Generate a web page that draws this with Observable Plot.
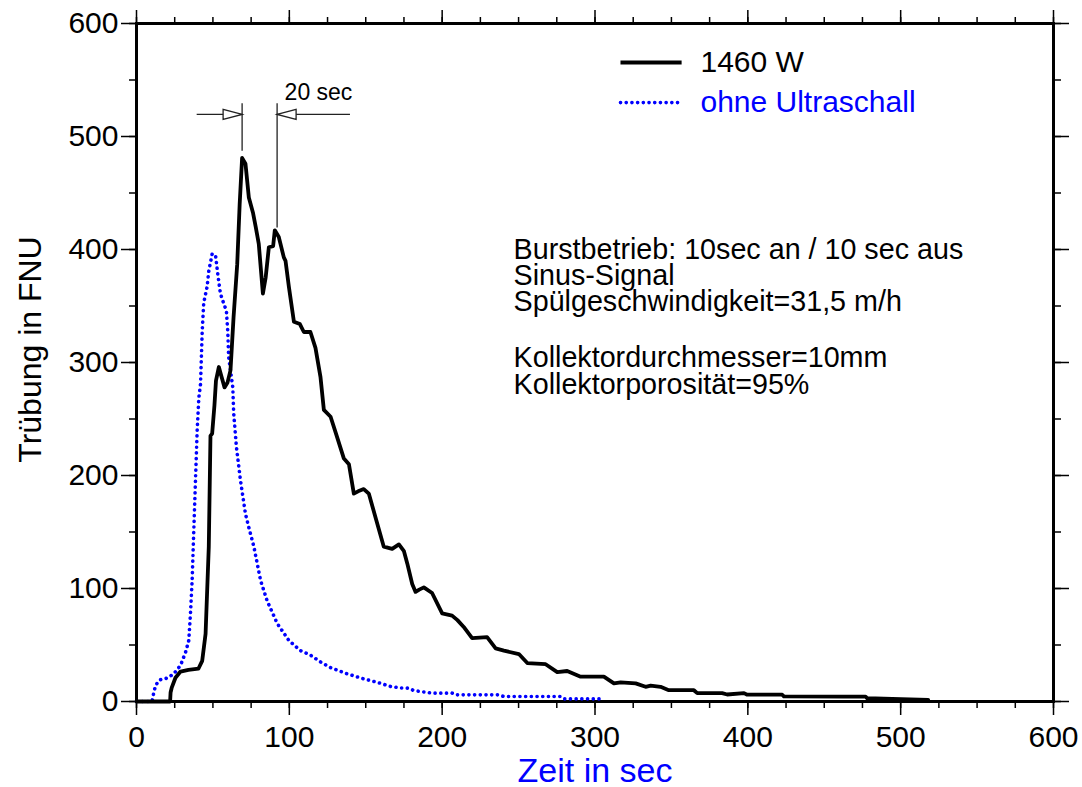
<!DOCTYPE html>
<html>
<head>
<meta charset="utf-8">
<script src="https://cdn.jsdelivr.net/npm/d3@7"></script>
<script src="https://cdn.jsdelivr.net/npm/@observablehq/plot@0.6"></script>
<style>
  html, body { margin: 0; padding: 0; background: #fff; }
  #chart { width: 1082px; height: 787px; }
</style>
</head>
<body>
<div id="chart"></div>
<script>
// ---- data ----
const seriesNames = ["1460 W", "ohne Ultraschall"];
const seriesColors = ["#000000", "#0000ff"];

const t1460 = [0, 22, 22.3, 23, 25.5, 28.8, 34, 40.5, 43, 45.2, 47.3, 48.4, 49.5, 51, 52, 53.9, 55.5, 57.6, 59.5, 61.5, 63.5, 65.9, 67.5, 69.1, 71.3, 73.5, 76.3, 78, 80, 82.7, 84.5, 86.6, 89.4, 90.5, 93.1, 96.4, 97.5, 99.7, 103, 106.9, 109.5, 113.8, 117.1, 120.4, 122.6, 127, 131, 135.7, 139, 142.2, 145, 148.7, 152, 157, 161.8, 167.3, 171.7, 175, 177.2, 180.4, 182.6, 185, 188, 193.4, 200, 206.5, 210, 214.1, 219.6, 229.4, 235, 240.4, 250.2, 255.7, 267.7, 275.3, 281.8, 290.6, 305.8, 312.4, 316.8, 326.6, 333.1, 336.4, 342.9, 348.3, 364.7, 366.9, 383.2, 386.5, 397.5, 399.6, 422.5, 423.6, 462.9, 477, 478, 494.5, 518];
const v1460 = [0, 0, 8, 12, 21, 26.5, 28, 29, 36, 60, 137, 235, 237, 262, 284, 296, 288, 278, 282, 293, 340, 387, 440, 481, 476, 446, 432, 420, 405, 361, 375, 402, 403, 417, 411, 393, 390, 367, 336, 334, 327, 327, 313, 287, 258, 252, 235, 215, 210, 184, 186, 188, 184, 160, 137, 135, 139, 133, 122, 104, 97, 99, 101, 96, 78, 76, 72, 66, 56, 57, 47, 45, 42, 34, 33, 26, 27, 22, 22, 16, 17, 16, 13, 14, 13, 10, 10, 7.4, 7.4, 6.2, 7.4, 6, 6, 4.5, 4.4, 4.4, 3, 2.3, 1.5];

const tOhne = [0, 10.2, 11.3, 12.5, 14.6, 17, 20, 24.4, 28.8, 32.1, 34.2, 35.3, 36.4, 37.4, 38.6, 39.7, 40.8, 41.9, 43, 44, 46.2, 47.3, 49.5, 51.7, 53.2, 54.9, 57.1, 58.8, 59.7, 60.3, 61.5, 63, 63.6, 65.4, 68, 71.3, 73.5, 76.8, 81.2, 85.5, 92.1, 99.7, 107.3, 113.9, 120.4, 127, 137.8, 148.7, 157.5, 166.2, 172.8, 178.2, 181.4, 193.4, 206.5, 208.8, 237, 240.4, 277.5, 279.6, 305.6];
const vOhne = [0, 0, 8, 14, 18.6, 20, 20.6, 24.5, 31.9, 43.6, 54, 77.6, 107, 148, 196, 240, 269, 281, 328, 353, 367, 381, 396, 395, 378, 361, 352, 346, 328, 305, 293, 278, 255, 225, 196, 166, 154, 137, 107, 89, 69, 54, 45, 41, 35, 30, 24.5, 20, 17, 13.3, 12, 11.8, 9.7, 7.4, 7.4, 5.9, 5.9, 4.4, 4.4, 2.3, 2.3];

const xMajor = [0, 100, 200, 300, 400, 500, 600];
const yMajor = [0, 100, 200, 300, 400, 500, 600];
const xMinor = d3.range(0, 601, 25);
const yMinor = d3.range(0, 601, 50);

// annotation: peak times 20 s apart
const peakTimes = [69.1, 92];
const annoText = "20 sec";
const infoLines1 = ["Burstbetrieb: 10sec an / 10 sec aus", "Sinus-Signal", "Spülgeschwindigkeit=31,5 m/h"];
const infoLines2 = ["Kollektordurchmesser=10mm", "Kollektorporosität=95%"];

// ---- build tables ----
const dHigh = t1460.map((t, i) => ({t, v: v1460[i]}));
const dOhne = tOhne.map((t, i) => ({t, v: vOhne[i]}));

const FONT = "Liberation Sans, Arial, sans-serif";

const triRight = {draw(ctx) { ctx.moveTo(0, 0); ctx.lineTo(-19, -5); ctx.lineTo(-19, 5); ctx.closePath(); }};
const triLeft = {draw(ctx) { ctx.moveTo(0, 0); ctx.lineTo(19, -5); ctx.lineTo(19, 5); ctx.closePath(); }};

const arrowY = 519.5;
const dotted = {strokeDasharray: "0.1,5.6", strokeLinecap: "round", strokeWidth: 3.6};

const chart = Plot.plot({
  width: 1082,
  height: 787,
  marginLeft: 136,
  marginRight: 29,
  marginTop: 23,
  marginBottom: 86,
  style: {fontFamily: FONT, fontSize: "30px", background: "#fff", color: "#000"},
  x: {domain: [0, 600]},
  y: {domain: [0, 600]},
  marks: [
    // minor ticks
    Plot.axisX(xMinor, {anchor: "bottom", tickSize: 7, strokeWidth: 1.5, tickFormat: () => "", label: null}),
    Plot.axisX(xMinor, {anchor: "top", tickSize: 7, strokeWidth: 1.5, tickFormat: () => "", label: null}),
    Plot.axisY(yMinor, {anchor: "left", tickSize: 7, strokeWidth: 1.5, tickFormat: () => "", label: null}),
    Plot.axisY(yMinor, {anchor: "right", tickSize: 7, strokeWidth: 1.5, tickFormat: () => "", label: null}),
    // major ticks
    Plot.axisX(xMajor, {anchor: "bottom", tickSize: 14, strokeWidth: 1.5, tickPadding: 10, tickFormat: d3.format("d"), label: null, fontSize: 30}),
    Plot.axisX(xMajor, {anchor: "top", tickSize: 14, strokeWidth: 1.5, tickFormat: () => "", label: null}),
    Plot.axisY(yMajor, {anchor: "left", tickSize: 15, strokeWidth: 1.5, tickPadding: 3, tickFormat: d3.format("d"), label: null, fontSize: 30}),
    Plot.axisY(yMajor, {anchor: "right", tickSize: 15, strokeWidth: 1.5, tickFormat: () => "", label: null}),
    Plot.frame({strokeWidth: 3}),
    // data lines
    Plot.line(dOhne, {x: "t", y: "v", stroke: seriesColors[1], ...dotted}),
    Plot.line(dHigh, {x: "t", y: "v", stroke: seriesColors[0], strokeWidth: 3.8, strokeLinejoin: "round"}),
    // legend
    Plot.ruleY([565.5], {x1: 317, x2: 357, stroke: seriesColors[0], strokeWidth: 3.8}),
    Plot.ruleY([530], {x1: 317, x2: 357, stroke: seriesColors[1], ...dotted}),
    Plot.text([seriesNames[0]], {x: 369, y: 565.5, textAnchor: "start", fill: seriesColors[0], fontSize: 30}),
    Plot.text([seriesNames[1]], {x: 369, y: 530, textAnchor: "start", fill: seriesColors[1], fontSize: 30}),
    // annotation: 20 sec dimension
    Plot.ruleX([peakTimes[0]], {y1: 487, y2: 529, stroke: "#222", strokeWidth: 1.3}),
    Plot.ruleX([peakTimes[1]], {y1: 419, y2: 529, stroke: "#222", strokeWidth: 1.3}),
    Plot.ruleY([arrowY], {x1: 39.7, x2: peakTimes[0], stroke: "#222", strokeWidth: 1.3}),
    Plot.ruleY([arrowY], {x1: peakTimes[1], x2: 140, stroke: "#222", strokeWidth: 1.3}),
    Plot.dot([peakTimes[0]], {x: d => d, y: () => arrowY, symbol: triRight, r: 5, fill: "#fff", stroke: "#222", strokeWidth: 1.3}),
    Plot.dot([peakTimes[1]], {x: d => d, y: () => arrowY, symbol: triLeft, r: 5, fill: "#fff", stroke: "#222", strokeWidth: 1.3}),
    Plot.text([annoText], {x: 96.9, y: 539, textAnchor: "start", fontSize: 23}),
    // info text
    Plot.text([infoLines1.join("\n")], {x: 246.7, y: 408.5, textAnchor: "start", lineAnchor: "top", lineHeight: 0.92, fontSize: 28.7}),
    Plot.text([infoLines2.join("\n")], {x: 246.7, y: 312.5, textAnchor: "start", lineAnchor: "top", lineHeight: 0.92, fontSize: 28.7}),
    // axis titles
    Plot.text(["Zeit in sec"], {frameAnchor: "bottom", dy: 80, fill: "#0000ff", fontSize: 34}),
    Plot.text(["Trübung in FNU"], {frameAnchor: "left", textAnchor: "middle", dx: -106, dy: -13, rotate: -90, fill: "#000", fontSize: 32})
  ]
});
document.getElementById("chart").appendChild(chart);
</script>
</body>
</html>
